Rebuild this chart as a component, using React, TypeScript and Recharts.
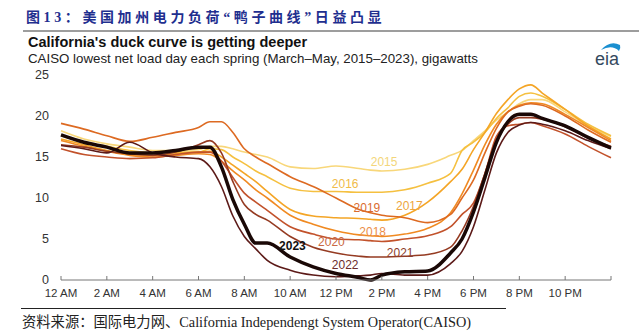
import React from 'react';
import { LineChart, Line, XAxis, YAxis, ReferenceDot } from 'recharts';

// hour of day (0 = 12 AM, 24 = next midnight)
const hours = [0, 1, 2, 3, 4, 5, 6, 6.5, 7, 7.5, 8, 8.5, 9, 10, 11, 12, 13, 13.5, 14, 15, 16, 17, 17.5, 18, 18.5, 19, 19.5, 20, 20.5, 21, 22, 23, 24];

// net load, gigawatts
const y2015 = [18.2, 17.2, 16.6, 16.2, 15.8, 15.8, 15.9, 16.3, 16.3, 16.0, 15.6, 15.3, 15.0, 13.8, 13.6, 13.9, 13.6, 13.4, 13.3, 13.5, 14.1, 15.2, 15.8, 17.0, 18.2, 19.5, 20.5, 21.5, 22.0, 22.0, 20.5, 18.8, 17.5];
const y2016 = [17.6, 16.8, 16.3, 15.8, 15.5, 15.6, 15.6, 16.0, 15.9, 15.0, 14.2, 13.3, 12.6, 11.2, 10.8, 10.8, 10.7, 10.7, 10.7, 11.0, 11.8, 13.0, 15.8, 16.8, 18.0, 19.7, 21.0, 22.4, 22.8, 22.4, 20.8, 19.0, 17.6];
const y2017 = [17.2, 16.5, 15.8, 15.3, 15.2, 15.4, 15.6, 15.7, 15.0, 14.0, 13.0, 12.0, 10.8, 8.6, 7.8, 7.6, 7.5, 7.4, 7.3, 7.9, 9.5, 12.0, 13.5, 15.9, 18.0, 20.3, 22.0, 23.3, 23.8, 22.8, 20.8, 18.8, 17.2];
const y2018 = [17.0, 16.3, 15.7, 15.2, 15.0, 15.2, 15.4, 15.3, 14.5, 13.3, 12.2, 11.0, 10.0, 7.9, 6.8, 6.0, 5.5, 5.4, 5.3, 5.6, 6.3, 8.2, 10.5, 13.4, 16.5, 19.0, 20.5, 21.3, 21.6, 21.5, 20.2, 18.6, 17.0];
const y2019 = [19.1, 18.4, 17.6, 16.9, 17.4, 18.0, 18.6, 19.3, 19.3, 18.0, 16.0, 15.0, 14.2, 12.6, 11.4, 10.0, 8.6, 8.2, 7.9, 7.6, 7.0, 8.0, 10.0, 12.2, 15.5, 18.5, 20.5, 21.2, 21.5, 21.3, 20.0, 18.3, 16.8];
const y2020 = [16.0, 15.3, 15.0, 14.8, 14.9, 15.3, 15.6, 15.6, 14.5, 12.5, 10.6, 9.5, 8.5, 6.5, 5.6, 5.0, 4.9, 4.8, 4.7, 5.0, 5.4, 6.5, 8.0, 9.4, 13.0, 17.5, 18.8, 19.0, 19.2, 18.8, 17.8, 16.3, 14.9];
const y2021 = [16.5, 16.2, 15.7, 15.4, 15.2, 15.6, 16.5, 17.0, 15.5, 12.0, 9.2, 8.0, 7.3, 5.3, 4.0, 3.3, 2.9, 2.8, 2.8, 2.9, 3.1, 4.0, 6.0, 9.0, 13.0, 17.0, 19.0, 19.8, 19.8, 19.6, 18.7, 17.3, 16.3];
const y2022 = [16.4, 16.0, 15.5, 16.8, 15.5, 15.0, 14.8, 13.8, 11.4, 7.8, 5.3, 3.8, 2.4, 1.2, 0.6, 0.4, 0.5, 0.6, 0.8, 0.6, 0.6, 2.0, 3.5, 6.5, 11.0, 15.5, 18.0, 18.9, 19.2, 19.0, 18.2, 17.0, 16.0];
const y2023 = [17.7, 16.8, 16.2, 15.5, 15.5, 15.8, 16.2, 16.2, 13.8, 9.8, 6.8, 4.5, 4.5, 2.8, 1.6, 0.8, 0.3, 0.0, 0.6, 1.0, 1.1, 3.3, 5.0, 8.3, 12.5, 16.8, 19.3, 20.2, 20.2, 19.7, 18.8, 17.4, 16.1];

const years = ['2015', '2016', '2017', '2018', '2019', '2020', '2021', '2022', '2023'];
const seriesValues = [y2015, y2016, y2017, y2018, y2019, y2020, y2021, y2022, y2023];
const lineColors = ['#f8d77a', '#f5c040', '#f4a526', '#f08a22', '#dd6a22', '#c2522b', '#953b22', '#5c1a18', '#1a0806'];
const labelColors = ['#f3d67a', '#f0bb48', '#eda540', '#ec8e48', '#d96c30', '#c96842', '#8e3d2a', '#6b2c2c', '#111111'];

// where each year's label sits (hour, gigawatts)
const labelHour = [14.1, 12.4, 15.2, 13.6, 13.35, 11.8, 14.8, 12.4, 10.1];
const labelValue = [14.4, 11.7, 9.0, 5.85, 8.8, 4.65, 3.3, 1.85, 4.15];

const xTicks = [0, 2, 4, 6, 8, 10, 12, 14, 16, 18, 20, 22, 24];
const xTickNames = ['12 AM', '2 AM', '4 AM', '6 AM', '8 AM', '10 AM', '12 PM', '2 PM', '4 PM', '6 PM', '8 PM', '10 PM', ''];
const yTicks = [0, 5, 10, 15, 20, 25];

const chartData = hours.map((h, i) => {
  const row: Record<string, number> = { hour: h };
  years.forEach((yr, k) => {
    row[yr] = seriesValues[k][i];
  });
  return row;
});

const sans = "'Liberation Sans', Arial, sans-serif";
const serif = "'Liberation Serif', 'Noto Sans CJK SC', serif";

export default function App() {
  return (
    <div style={{ position: 'absolute', left: 0, top: 0, width: 639, height: 336, background: '#fff', overflow: 'hidden' }}>
      <div
        style={{
          position: 'absolute', left: 26, top: 10, fontSize: 14, lineHeight: '16px', fontWeight: 'bold',
          color: '#1f2f8f', letterSpacing: 3.6, whiteSpace: 'nowrap', fontFamily: serif,
        }}
      >
        图13：美国加州电力负荷“鸭子曲线”日益凸显
      </div>
      <div style={{ position: 'absolute', left: 23, right: 0, top: 30, height: 2, background: '#9d9d9d' }} />

      <div style={{ position: 'absolute', left: 28, top: 34, fontFamily: sans, fontSize: 14.5, fontWeight: 'bold', color: '#111', whiteSpace: 'nowrap' }}>
        California's duck curve is getting deeper
      </div>
      <div style={{ position: 'absolute', left: 28, top: 51, fontFamily: sans, fontSize: 13.3, color: '#222', whiteSpace: 'nowrap' }}>
        CAISO lowest net load day each spring (March–May, 2015–2023), gigawatts
      </div>

      <svg style={{ position: 'absolute', left: 590, top: 36 }} width={40} height={34}>
        <path d="M 11 14 Q 20 4 30 9 Q 31 12 29 15 Q 22 8 11 14 Z" fill="#1a8fd0" />
        <text x={5} y={29} fontFamily={sans} fontSize={18} fill="#34495e">eia</text>
      </svg>

      <div style={{ position: 'absolute', left: 0, top: 0 }}>
        <LineChart width={639} height={336} data={chartData} margin={{ top: 75, right: 28, bottom: 26, left: 21 }}>
          <XAxis
            dataKey="hour"
            type="number"
            domain={[0, 24]}
            ticks={xTicks}
            tickFormatter={(v: number) => xTickNames[xTicks.indexOf(v)]}
            height={30}
            tickSize={-4}
            tickMargin={13}
            stroke="#777"
            tick={{ fontFamily: sans, fontSize: 11.5, fill: '#333' }}
            interval={0}
          />
          <YAxis
            type="number"
            domain={[0, 25]}
            ticks={yTicks}
            width={40}
            axisLine={false}
            tickLine={false}
            tickSize={0}
            tickMargin={12}
            tick={{ fontFamily: sans, fontSize: 12.5, fill: '#333' }}
          />
          {years.map((yr, k) => (
            <Line
              key={yr}
              type="monotone"
              dataKey={yr}
              stroke={lineColors[k]}
              strokeWidth={yr === '2023' ? 3.5 : 1.6}
              dot={false}
              activeDot={false}
              isAnimationActive={false}
            />
          ))}
          {years.map((yr, k) => (
            <ReferenceDot
              key={'lbl' + yr}
              x={labelHour[k]}
              y={labelValue[k]}
              r={1}
              fill="none"
              stroke="none"
              label={{
                value: yr,
                position: 'center',
                fill: labelColors[k],
                fontSize: 12,
                fontFamily: sans,
                fontWeight: yr === '2023' ? 'bold' : 'normal',
              }}
            />
          ))}
        </LineChart>
      </div>

      <div style={{ position: 'absolute', left: 21, width: 485, top: 308, height: 1, background: '#222' }} />
      <div
        style={{
          position: 'absolute', left: 22, top: 314, fontSize: 14.3, lineHeight: '16px', color: '#222', whiteSpace: 'nowrap',
          fontFamily: serif,
        }}
      >
        资料来源：国际电力网、California Independengt System Operator(CAISO)
      </div>
    </div>
  );
}
